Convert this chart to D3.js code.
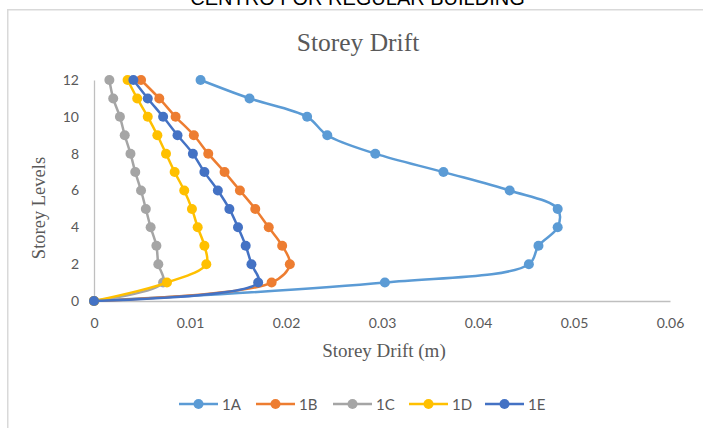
<!DOCTYPE html>
<html>
<head>
<meta charset="utf-8">
<script src="https://cdn.jsdelivr.net/npm/d3@7/dist/d3.min.js"></script>
<style>
  body { margin: 0; background: #fff; }
  svg { display: block; }
</style>
</head>
<body>
<svg id="chart" width="703" height="428"></svg>
<script>
// Storey levels (y) and drift per level (x, metres) for each frame line
const levels   = [0, 1, 2, 3, 4, 5, 6, 7, 8, 9, 10, 11, 12];
const drift1A  = [0, 0.0303, 0.0453, 0.0463, 0.0483, 0.0483, 0.0433, 0.0364, 0.0293, 0.0243, 0.0222, 0.0162, 0.0111];
const drift1B  = [0, 0.0185, 0.0204, 0.0196, 0.0182, 0.0168, 0.0152, 0.0136, 0.0119, 0.0104, 0.0085, 0.0068, 0.0049];
const drift1C  = [0, 0.0072, 0.0067, 0.0065, 0.0059, 0.0054, 0.0049, 0.0043, 0.0038, 0.0032, 0.0027, 0.0020, 0.0016];
const drift1D  = [0, 0.0076, 0.0117, 0.0115, 0.0108, 0.0102, 0.0094, 0.0084, 0.0075, 0.0066, 0.0056, 0.0045, 0.0035];
const drift1E  = [0, 0.0171, 0.0164, 0.0158, 0.0150, 0.0141, 0.0129, 0.0115, 0.0103, 0.0087, 0.0072, 0.0056, 0.0041];

const seriesNames  = ["1A", "1B", "1C", "1D", "1E"];
const seriesValues = [drift1A, drift1B, drift1C, drift1D, drift1E];
const seriesColors = ["#5B9BD5", "#ED7D31", "#A5A5A5", "#FFC000", "#4472C4"];

const xTicks = [0, 0.01, 0.02, 0.03, 0.04, 0.05, 0.06];
const yTicks = [0, 2, 4, 6, 8, 10, 12];

const svg = d3.select("#chart");
const W = 703, H = 428;

svg.append("rect").attr("width", W).attr("height", H).attr("fill", "#fff");

// heading above the chart frame
svg.append("text")
  .attr("x", 357.5).attr("y", 4.5)
  .attr("text-anchor", "middle")
  .attr("font-family", "Liberation Sans, Arial, sans-serif")
  .attr("font-size", 20)
  .attr("fill", "#000")
  .text("CENTRO FOR REGULAR BUILDING");

// chart frame
svg.append("rect")
  .attr("x", 7.75).attr("y", 9.75)
  .attr("width", 800).attr("height", 600)
  .attr("fill", "none")
  .attr("stroke", "#d9d9d9")
  .attr("stroke-width", 1.5);

const x = d3.scaleLinear().domain([0, 0.06]).range([94, 670]);
const y = d3.scaleLinear().domain([0, 12]).range([301, 80]);

const tickFont = "Lato, 'Open Sans', sans-serif";
const grey = "#595959";

// x axis
const gx = svg.append("g")
  .attr("transform", `translate(0,${y(0)})`)
  .call(d3.axisBottom(x).tickValues(xTicks).tickSize(0).tickSizeOuter(0).tickPadding(17)
    .tickFormat(d => d === 0 ? "0" : d3.format(".2f")(d)));
gx.select(".domain").attr("stroke", "#bfbfbf").attr("stroke-width", 1.3);
gx.selectAll("text").attr("font-family", tickFont).attr("font-size", 14).attr("fill", grey);

// y axis
const gy = svg.append("g")
  .attr("transform", `translate(${x(0)},0)`)
  .call(d3.axisLeft(y).tickValues(yTicks).tickSize(0).tickSizeOuter(0).tickPadding(15));
gy.select(".domain").attr("stroke", "#bfbfbf").attr("stroke-width", 1.3);
gy.selectAll("text").attr("font-family", tickFont).attr("font-size", 14).attr("fill", grey);

// titles
const serif = "'Liberation Serif', 'Times New Roman', serif";
svg.append("text")
  .attr("x", 358).attr("y", 51)
  .attr("text-anchor", "middle")
  .attr("font-family", serif).attr("font-size", 25.5).attr("fill", grey)
  .text("Storey Drift");

svg.append("text")
  .attr("x", 384).attr("y", 357)
  .attr("text-anchor", "middle")
  .attr("font-family", serif).attr("font-size", 19).attr("fill", grey)
  .text("Storey Drift (m)");

svg.append("text")
  .attr("transform", "translate(45,208) rotate(-90)")
  .attr("text-anchor", "middle")
  .attr("font-family", serif).attr("font-size", 18.5).attr("fill", grey)
  .text("Storey Levels");

// series: smoothed lines with round markers
const line = d3.line()
  .x(d => x(d.v))
  .y(d => y(d.l))
  .curve(d3.curveCatmullRom.alpha(0.5));

seriesNames.forEach((name, i) => {
  const pts = levels.map((l, k) => ({ l, v: seriesValues[i][k] }));
  const g = svg.append("g");
  g.append("path")
    .datum(pts)
    .attr("d", line)
    .attr("fill", "none")
    .attr("stroke", seriesColors[i])
    .attr("stroke-width", 2.5)
    .attr("stroke-linejoin", "round");
  g.selectAll("circle")
    .data(pts)
    .join("circle")
    .attr("cx", d => x(d.v))
    .attr("cy", d => y(d.l))
    .attr("r", 5)
    .attr("fill", seriesColors[i]);
});

// legend
const legendX = [179, 256, 333, 409, 485];
const legend = svg.append("g").attr("transform", "translate(0,404)");
seriesNames.forEach((name, i) => {
  const lx = legendX[i];
  legend.append("line")
    .attr("x1", lx).attr("x2", lx + 39)
    .attr("y1", 0).attr("y2", 0)
    .attr("stroke", seriesColors[i]).attr("stroke-width", 2.5);
  legend.append("circle")
    .attr("cx", lx + 19.5).attr("cy", 0).attr("r", 5)
    .attr("fill", seriesColors[i]);
  legend.append("text")
    .attr("x", lx + 43).attr("y", 5.5)
    .attr("font-family", tickFont).attr("font-size", 15).attr("fill", grey)
    .text(name);
});
</script>
</body>
</html>
